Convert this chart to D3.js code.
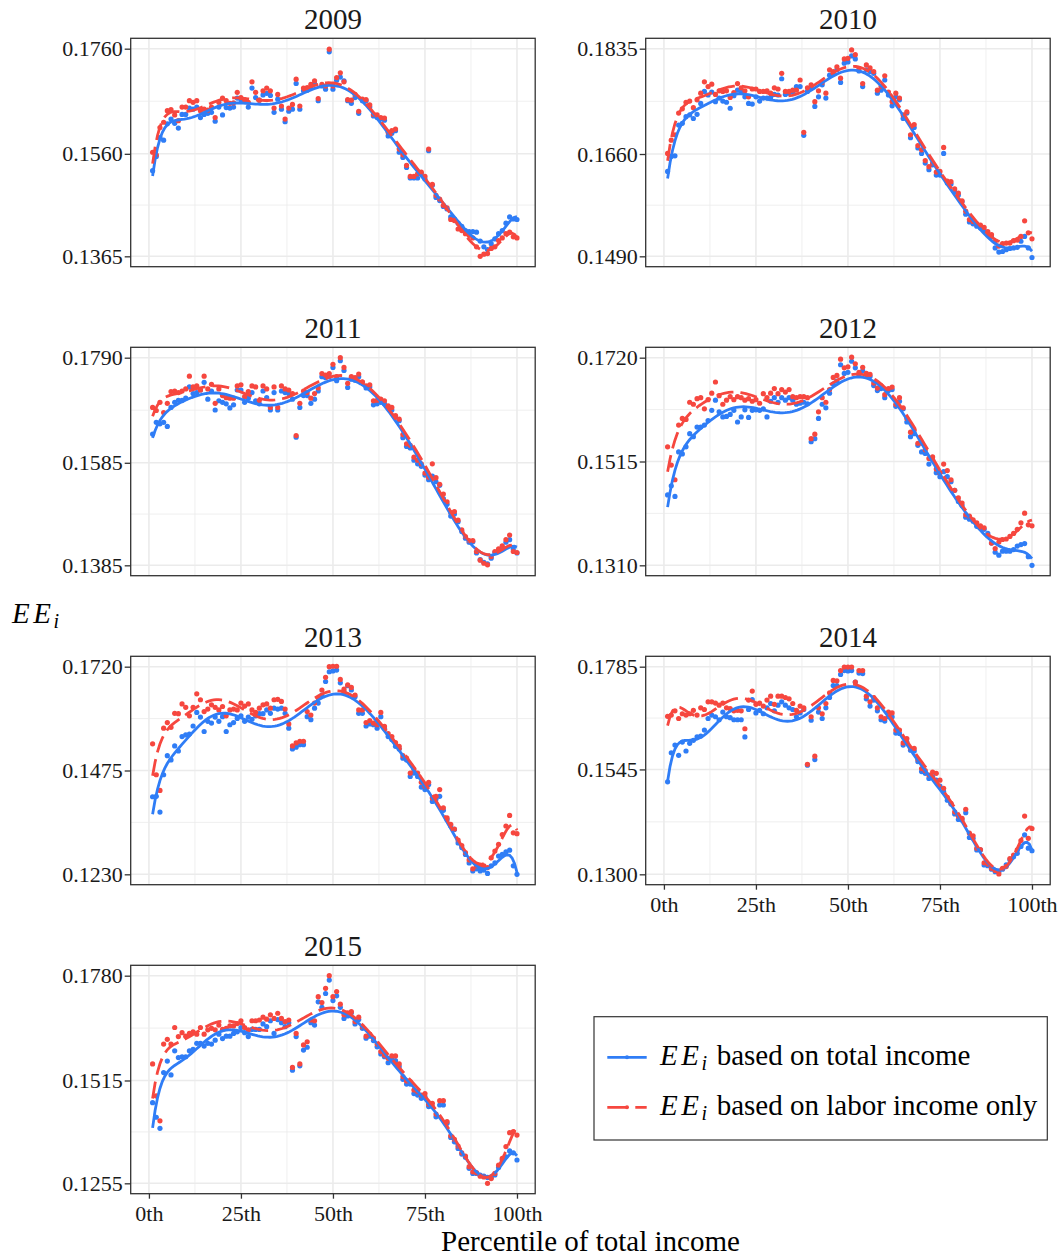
<!DOCTYPE html>
<html>
<head>
<meta charset="utf-8">
<script src="https://cdn.jsdelivr.net/npm/d3@7/dist/d3.min.js"></script>
<style>
  body { margin: 0; background: #fff; }
  text { font-family: "Liberation Serif", "Times New Roman", serif; }
</style>
</head>
<body>
<div id="chart"></div>
<script>
// ---------- data, percentiles 1..100
var years = ['2009', '2010', '2011', '2012', '2013', '2014', '2015'];
var percentiles = d3.range(1, 101);
var xTicks = [0, 25, 50, 75, 100];
var xTickLabels = ['0th', '25th', '50th', '75th', '100th'];

var yTicks2009 = [0.1365, 0.1560, 0.1760];
var yTicks2010 = [0.1490, 0.1660, 0.1835];
var yTicks2011 = [0.1385, 0.1585, 0.1790];
var yTicks2012 = [0.1310, 0.1515, 0.1720];
var yTicks2013 = [0.1230, 0.1475, 0.1720];
var yTicks2014 = [0.1300, 0.1545, 0.1785];
var yTicks2015 = [0.1255, 0.1515, 0.1780];

var total2009 = [0.1528,0.1555,0.1591,0.1586,0.1617,0.1626,0.1618,0.1609,0.1635,0.1635,
  0.1647,0.1645,0.1649,0.1629,0.1635,0.1637,0.1639,0.1622,0.1649,0.1634,
  0.1648,0.1647,0.1649,0.1666,0.1663,0.1661,0.1649,0.1685,0.1667,0.1662,
  0.1672,0.1675,0.1671,0.1639,0.1664,0.1645,0.1621,0.1641,0.1645,0.1694,
  0.1645,0.1680,0.1681,0.1687,0.1694,0.1661,0.1689,0.1683,0.1754,0.1683,
  0.1700,0.1706,0.1699,0.1661,0.1656,0.1667,0.1637,0.1661,0.1661,0.1649,
  0.1632,0.1629,0.1626,0.1624,0.1594,0.1599,0.1604,0.1563,0.1553,0.1534,
  0.1514,0.1514,0.1514,0.1522,0.1512,0.1566,0.1500,0.1477,0.1471,0.1460,
  0.1455,0.1440,0.1436,0.1428,0.1422,0.1414,0.1412,0.1412,0.1411,0.1394,
  0.1383,0.1378,0.1389,0.1398,0.1408,0.1414,0.1428,0.1440,0.1436,0.1435];
var labor2009 = [0.1563,0.1558,0.1610,0.1620,0.1642,0.1644,0.1634,0.1623,0.1649,0.1649,
  0.1661,0.1658,0.1661,0.1642,0.1645,0.1643,0.1649,0.1629,0.1658,0.1666,
  0.1661,0.1656,0.1657,0.1677,0.1667,0.1663,0.1658,0.1697,0.1677,0.1662,
  0.1680,0.1685,0.1680,0.1647,0.1673,0.1651,0.1626,0.1647,0.1654,0.1702,
  0.1651,0.1685,0.1686,0.1692,0.1699,0.1665,0.1692,0.1689,0.1759,0.1689,
  0.1705,0.1714,0.1697,0.1663,0.1662,0.1673,0.1641,0.1664,0.1663,0.1653,
  0.1635,0.1634,0.1629,0.1628,0.1601,0.1604,0.1607,0.1569,0.1558,0.1538,
  0.1517,0.1517,0.1522,0.1525,0.1517,0.1569,0.1502,0.1481,0.1474,0.1462,
  0.1457,0.1435,0.1433,0.1417,0.1414,0.1408,0.1405,0.1400,0.1383,0.1365,
  0.1369,0.1370,0.1380,0.1383,0.1395,0.1400,0.1408,0.1411,0.1402,0.1400];

var total2010 = [0.1631,0.1656,0.1657,0.1708,0.1711,0.1722,0.1725,0.1719,0.1726,0.1744,
  0.1764,0.1758,0.1763,0.1747,0.1753,0.1748,0.1746,0.1736,0.1757,0.1766,
  0.1764,0.1755,0.1744,0.1743,0.1755,0.1748,0.1753,0.1753,0.1754,0.1759,
  0.1758,0.1785,0.1759,0.1761,0.1763,0.1772,0.1772,0.1691,0.1764,0.1770,
  0.1739,0.1755,0.1775,0.1753,0.1791,0.1794,0.1800,0.1779,0.1811,0.1813,
  0.1823,0.1818,0.1798,0.1772,0.1800,0.1797,0.1794,0.1761,0.1766,0.1783,
  0.1758,0.1740,0.1755,0.1750,0.1719,0.1728,0.1687,0.1704,0.1670,0.1661,
  0.1645,0.1634,0.1642,0.1625,0.1625,0.1661,0.1612,0.1610,0.1597,0.1592,
  0.1581,0.1560,0.1547,0.1544,0.1540,0.1537,0.1533,0.1526,0.1522,0.1504,
  0.1497,0.1498,0.1501,0.1503,0.1504,0.1505,0.1515,0.1523,0.1504,0.1488];
var labor2010 = [0.1661,0.1683,0.1692,0.1728,0.1735,0.1746,0.1748,0.1737,0.1750,0.1761,
  0.1780,0.1772,0.1776,0.1759,0.1765,0.1764,0.1765,0.1754,0.1762,0.1777,
  0.1770,0.1765,0.1755,0.1768,0.1768,0.1764,0.1764,0.1765,0.1761,0.1770,
  0.1768,0.1794,0.1764,0.1764,0.1766,0.1766,0.1783,0.1696,0.1770,0.1775,
  0.1747,0.1765,0.1779,0.1761,0.1800,0.1797,0.1805,0.1786,0.1818,0.1819,
  0.1833,0.1825,0.1802,0.1777,0.1808,0.1803,0.1797,0.1766,0.1772,0.1790,
  0.1763,0.1747,0.1761,0.1753,0.1725,0.1730,0.1692,0.1709,0.1674,0.1667,
  0.1649,0.1639,0.1645,0.1630,0.1631,0.1671,0.1615,0.1614,0.1602,0.1595,
  0.1582,0.1565,0.1551,0.1548,0.1544,0.1542,0.1538,0.1531,0.1526,0.1514,
  0.1507,0.1511,0.1512,0.1512,0.1516,0.1517,0.1523,0.1549,0.1529,0.1519];

var total2011 = [0.1641,0.1664,0.1661,0.1664,0.1656,0.1693,0.1703,0.1707,0.1707,0.1711,
  0.1733,0.1720,0.1722,0.1727,0.1742,0.1709,0.1725,0.1688,0.1706,0.1703,
  0.1700,0.1692,0.1698,0.1727,0.1727,0.1703,0.1711,0.1722,0.1706,0.1700,
  0.1725,0.1712,0.1688,0.1722,0.1688,0.1725,0.1722,0.1720,0.1709,0.1635,
  0.1693,0.1716,0.1716,0.1701,0.1709,0.1725,0.1753,0.1751,0.1753,0.1771,
  0.1745,0.1784,0.1765,0.1732,0.1748,0.1746,0.1753,0.1742,0.1731,0.1733,
  0.1698,0.1700,0.1703,0.1700,0.1693,0.1688,0.1674,0.1667,0.1634,0.1617,
  0.1614,0.1590,0.1583,0.1578,0.1561,0.1552,0.1559,0.1548,0.1541,0.1515,
  0.1504,0.1481,0.1485,0.1470,0.1451,0.1438,0.1430,0.1431,0.1409,0.1396,
  0.1391,0.1388,0.1399,0.1410,0.1415,0.1420,0.1430,0.1435,0.1417,0.1409];
var labor2011 = [0.1693,0.1687,0.1703,0.1683,0.1701,0.1724,0.1725,0.1722,0.1725,0.1729,
  0.1754,0.1733,0.1735,0.1727,0.1754,0.1729,0.1738,0.1701,0.1729,0.1716,
  0.1712,0.1711,0.1711,0.1735,0.1737,0.1714,0.1724,0.1735,0.1733,0.1707,
  0.1735,0.1729,0.1693,0.1733,0.1693,0.1735,0.1729,0.1727,0.1720,0.1638,
  0.1701,0.1725,0.1722,0.1711,0.1720,0.1731,0.1759,0.1756,0.1759,0.1777,
  0.1753,0.1790,0.1771,0.1740,0.1753,0.1751,0.1758,0.1743,0.1735,0.1737,
  0.1706,0.1707,0.1709,0.1706,0.1696,0.1693,0.1677,0.1670,0.1640,0.1622,
  0.1619,0.1596,0.1590,0.1583,0.1565,0.1557,0.1583,0.1556,0.1543,0.1524,
  0.1509,0.1488,0.1490,0.1473,0.1454,0.1441,0.1433,0.1433,0.1412,0.1395,
  0.1389,0.1386,0.1402,0.1412,0.1417,0.1423,0.1435,0.1444,0.1412,0.1410];

var total2012 = [0.1449,0.1467,0.1446,0.1534,0.1530,0.1544,0.1570,0.1564,0.1583,0.1583,
  0.1587,0.1596,0.1616,0.1636,0.1613,0.1603,0.1604,0.1608,0.1616,0.1593,
  0.1603,0.1617,0.1602,0.1616,0.1617,0.1616,0.1619,0.1603,0.1634,0.1641,
  0.1632,0.1641,0.1636,0.1641,0.1636,0.1628,0.1630,0.1632,0.1629,0.1554,
  0.1560,0.1600,0.1628,0.1621,0.1650,0.1668,0.1674,0.1706,0.1689,0.1691,
  0.1713,0.1700,0.1685,0.1694,0.1687,0.1683,0.1665,0.1655,0.1659,0.1641,
  0.1655,0.1657,0.1624,0.1634,0.1619,0.1593,0.1564,0.1570,0.1547,0.1534,
  0.1531,0.1510,0.1518,0.1493,0.1485,0.1495,0.1485,0.1475,0.1458,0.1436,
  0.1428,0.1405,0.1401,0.1397,0.1387,0.1384,0.1381,0.1373,0.1354,0.1336,
  0.1330,0.1338,0.1338,0.1338,0.1341,0.1348,0.1351,0.1353,0.1327,0.1310];
var labor2012 = [0.1544,0.1508,0.1479,0.1587,0.1600,0.1598,0.1632,0.1628,0.1639,0.1641,
  0.1619,0.1637,0.1650,0.1672,0.1645,0.1628,0.1636,0.1643,0.1637,0.1643,
  0.1641,0.1636,0.1639,0.1634,0.1637,0.1630,0.1649,0.1641,0.1650,0.1659,
  0.1649,0.1657,0.1652,0.1657,0.1643,0.1641,0.1643,0.1643,0.1641,0.1560,
  0.1569,0.1613,0.1641,0.1632,0.1657,0.1681,0.1685,0.1717,0.1700,0.1702,
  0.1721,0.1708,0.1691,0.1701,0.1689,0.1687,0.1670,0.1660,0.1665,0.1647,
  0.1659,0.1662,0.1628,0.1641,0.1621,0.1600,0.1573,0.1577,0.1551,0.1551,
  0.1538,0.1521,0.1524,0.1500,0.1493,0.1510,0.1497,0.1479,0.1458,0.1443,
  0.1433,0.1410,0.1407,0.1400,0.1394,0.1388,0.1384,0.1369,0.1354,0.1343,
  0.1356,0.1361,0.1362,0.1367,0.1373,0.1381,0.1394,0.1413,0.1390,0.1388];

var total2013 = [0.1413,0.1414,0.1377,0.1465,0.1510,0.1500,0.1533,0.1521,0.1555,0.1559,
  0.1561,0.1580,0.1612,0.1601,0.1567,0.1591,0.1587,0.1601,0.1591,0.1602,
  0.1567,0.1583,0.1588,0.1598,0.1604,0.1591,0.1601,0.1596,0.1604,0.1609,
  0.1609,0.1618,0.1610,0.1622,0.1620,0.1622,0.1610,0.1575,0.1526,0.1530,
  0.1536,0.1536,0.1602,0.1595,0.1622,0.1634,0.1653,0.1685,0.1708,0.1710,
  0.1712,0.1682,0.1661,0.1675,0.1665,0.1649,0.1610,0.1610,0.1580,0.1585,
  0.1583,0.1575,0.1602,0.1575,0.1555,0.1548,0.1532,0.1526,0.1504,0.1500,
  0.1461,0.1469,0.1461,0.1436,0.1430,0.1442,0.1402,0.1408,0.1414,0.1381,
  0.1359,0.1344,0.1336,0.1304,0.1293,0.1277,0.1257,0.1238,0.1243,0.1238,
  0.1240,0.1232,0.1250,0.1257,0.1273,0.1277,0.1283,0.1287,0.1250,0.1230];
var labor2013 = [0.1538,0.1465,0.1428,0.1575,0.1588,0.1577,0.1610,0.1609,0.1632,0.1624,
  0.1604,0.1624,0.1656,0.1642,0.1614,0.1620,0.1630,0.1624,0.1618,0.1626,
  0.1604,0.1618,0.1620,0.1618,0.1634,0.1627,0.1632,0.1618,0.1612,0.1622,
  0.1630,0.1632,0.1622,0.1642,0.1643,0.1638,0.1620,0.1585,0.1533,0.1540,
  0.1544,0.1544,0.1614,0.1606,0.1634,0.1646,0.1665,0.1695,0.1720,0.1721,
  0.1721,0.1690,0.1667,0.1677,0.1671,0.1653,0.1618,0.1618,0.1588,0.1593,
  0.1587,0.1583,0.1612,0.1579,0.1562,0.1555,0.1541,0.1532,0.1510,0.1504,
  0.1469,0.1477,0.1469,0.1447,0.1438,0.1447,0.1410,0.1414,0.1430,0.1387,
  0.1363,0.1348,0.1337,0.1311,0.1298,0.1281,0.1264,0.1243,0.1250,0.1251,
  0.1250,0.1246,0.1269,0.1285,0.1301,0.1324,0.1344,0.1369,0.1328,0.1326];

var total2014 = [0.1516,0.1584,0.1602,0.1578,0.1609,0.1588,0.1606,0.1613,0.1621,0.1623,
  0.1637,0.1664,0.1672,0.1668,0.1661,0.1679,0.1668,0.1666,0.1661,0.1661,
  0.1661,0.1621,0.1685,0.1708,0.1677,0.1683,0.1675,0.1689,0.1699,0.1682,
  0.1695,0.1703,0.1695,0.1689,0.1685,0.1668,0.1677,0.1685,0.1555,0.1660,
  0.1568,0.1679,0.1664,0.1689,0.1713,0.1741,0.1741,0.1767,0.1776,0.1775,
  0.1776,0.1749,0.1770,0.1769,0.1710,0.1693,0.1707,0.1682,0.1661,0.1658,
  0.1668,0.1668,0.1630,0.1629,0.1602,0.1609,0.1590,0.1588,0.1563,0.1540,
  0.1536,0.1524,0.1528,0.1520,0.1506,0.1493,0.1473,0.1464,0.1441,0.1428,
  0.1427,0.1444,0.1386,0.1384,0.1357,0.1357,0.1322,0.1320,0.1312,0.1306,
  0.1306,0.1312,0.1322,0.1334,0.1341,0.1349,0.1365,0.1392,0.1361,0.1355];
var labor2014 = [0.1669,0.1672,0.1682,0.1664,0.1675,0.1672,0.1675,0.1683,0.1672,0.1689,
  0.1685,0.1703,0.1703,0.1700,0.1695,0.1700,0.1689,0.1687,0.1682,0.1683,
  0.1682,0.1640,0.1707,0.1728,0.1697,0.1700,0.1693,0.1707,0.1716,0.1697,
  0.1716,0.1716,0.1713,0.1710,0.1699,0.1683,0.1693,0.1689,0.1557,0.1668,
  0.1576,0.1689,0.1675,0.1699,0.1724,0.1753,0.1752,0.1776,0.1784,0.1784,
  0.1784,0.1749,0.1776,0.1776,0.1716,0.1703,0.1713,0.1689,0.1668,0.1664,
  0.1679,0.1677,0.1637,0.1637,0.1607,0.1617,0.1594,0.1594,0.1568,0.1547,
  0.1542,0.1532,0.1539,0.1536,0.1520,0.1501,0.1480,0.1466,0.1446,0.1436,
  0.1431,0.1452,0.1396,0.1390,0.1361,0.1358,0.1327,0.1324,0.1314,0.1309,
  0.1301,0.1314,0.1318,0.1337,0.1345,0.1357,0.1379,0.1436,0.1384,0.1407];

var total2015 = [0.1459,0.1422,0.1394,0.1535,0.1564,0.1529,0.1590,0.1573,0.1575,0.1575,
  0.1590,0.1594,0.1609,0.1609,0.1602,0.1609,0.1607,0.1617,0.1632,0.1621,
  0.1627,0.1627,0.1634,0.1638,0.1649,0.1636,0.1626,0.1644,0.1644,0.1644,
  0.1658,0.1651,0.1666,0.1634,0.1669,0.1661,0.1651,0.1661,0.1541,0.1626,
  0.1552,0.1592,0.1599,0.1661,0.1655,0.1714,0.1700,0.1735,0.1769,0.1717,
  0.1729,0.1700,0.1672,0.1678,0.1686,0.1658,0.1669,0.1647,0.1622,0.1627,
  0.1616,0.1600,0.1582,0.1575,0.1560,0.1568,0.1565,0.1550,0.1518,0.1506,
  0.1506,0.1482,0.1478,0.1470,0.1474,0.1449,0.1449,0.1423,0.1453,0.1453,
  0.1407,0.1371,0.1360,0.1343,0.1329,0.1321,0.1293,0.1280,0.1280,0.1276,
  0.1273,0.1270,0.1270,0.1276,0.1295,0.1314,0.1322,0.1337,0.1332,0.1314];
var labor2015 = [0.1557,0.1476,0.1413,0.1607,0.1619,0.1607,0.1649,0.1626,0.1636,0.1627,
  0.1634,0.1638,0.1632,0.1649,0.1632,0.1643,0.1647,0.1643,0.1655,0.1644,
  0.1647,0.1653,0.1653,0.1659,0.1666,0.1649,0.1643,0.1666,0.1666,0.1668,
  0.1675,0.1670,0.1681,0.1672,0.1685,0.1672,0.1664,0.1668,0.1548,0.1634,
  0.1557,0.1605,0.1613,0.1668,0.1666,0.1727,0.1712,0.1748,0.1780,0.1727,
  0.1740,0.1708,0.1681,0.1686,0.1689,0.1664,0.1675,0.1651,0.1627,0.1632,
  0.1622,0.1607,0.1588,0.1579,0.1571,0.1577,0.1577,0.1557,0.1525,0.1514,
  0.1512,0.1491,0.1487,0.1478,0.1482,0.1455,0.1457,0.1430,0.1464,0.1464,
  0.1411,0.1375,0.1366,0.1349,0.1332,0.1324,0.1297,0.1284,0.1282,0.1273,
  0.1271,0.1255,0.1267,0.1280,0.1301,0.1318,0.1348,0.1383,0.1386,0.1377];

var seriesNames = ['based on total income', 'based on labor income only'];

// panel table built from the arrays above
var panels = [
  {year: years[0], ticks: yTicks2009, total: total2009, labor: labor2009},
  {year: years[1], ticks: yTicks2010, total: total2010, labor: labor2010},
  {year: years[2], ticks: yTicks2011, total: total2011, labor: labor2011},
  {year: years[3], ticks: yTicks2012, total: total2012, labor: labor2012},
  {year: years[4], ticks: yTicks2013, total: total2013, labor: labor2013},
  {year: years[5], ticks: yTicks2014, total: total2014, labor: labor2014},
  {year: years[6], ticks: yTicks2015, total: total2015, labor: labor2015}
];

// ---------- layout
var chart_width  = 1061;
var chart_height = 1258;
var col_x     = [130.7, 645.7];
var panel_w   = 404.5;
var panel_h   = 228.4;
var row_top   = 38.3;
var row_step  = 309;

var blue = '#2f7df6';
var red  = '#f6473f';
var grid_color = '#ebebeb';
var dark = '#333333';
var dash = '17,7';

// least-squares polynomial fit (Legendre basis on [-1, 1])
function polyfit(xs, ys, degree, n_out) {
    var x_min = d3.min(xs), x_max = d3.max(xs);
    var mid = (x_min + x_max) / 2, half = (x_max - x_min) / 2;
    function basis(x) {
        var t = (x - mid) / half, P = [1, t];
        for (var k = 1; k < degree; k++) {
            P.push(((2 * k + 1) * t * P[k] - k * P[k - 1]) / (k + 1));
        }
        return P.slice(0, degree + 1);
    }
    var m = degree + 1;
    var A = d3.range(m).map(function() { return d3.range(m + 1).map(function() { return 0; }); });
    xs.forEach(function(x, i) {
        var v = basis(x);
        for (var a = 0; a < m; a++) {
            A[a][m] += v[a] * ys[i];
            for (var b = 0; b < m; b++) A[a][b] += v[a] * v[b];
        }
    });
    var coef = solve(A, m);
    return d3.range(n_out).map(function(k) {
        var x = x_min + k * (x_max - x_min) / (n_out - 1);
        var v = basis(x);
        return [x, d3.sum(v, function(b, j) { return b * coef[j]; })];
    });
}

function solve(M, m) {
    for (var c = 0; c < m; c++) {
        var p = c;
        for (var r = c + 1; r < m; r++) if (Math.abs(M[r][c]) > Math.abs(M[p][c])) p = r;
        var tmp = M[c]; M[c] = M[p]; M[p] = tmp;
        for (var r2 = c + 1; r2 < m; r2++) {
            var f = M[r2][c] / M[c][c];
            for (var k = c; k <= m; k++) M[r2][k] -= f * M[c][k];
        }
    }
    var x = [];
    for (var i = m - 1; i >= 0; i--) {
        var s = M[i][m];
        for (var j = i + 1; j < m; j++) s -= M[i][j] * x[j];
        x[i] = s / M[i][i];
    }
    return x;
}

var svg = d3.select('#chart')
    .append('svg')
    .attr('width', chart_width)
    .attr('height', chart_height)
    .style('display', 'block');

svg.append('rect').attr('width', chart_width).attr('height', chart_height).attr('fill', '#fff');

var degree = 10;

panels.forEach(function(p, idx) {
    var col = idx % 2, row = Math.floor(idx / 2);
    var x0 = col_x[col], y0 = row_top + row * row_step;
    var show_x = (idx === 5 || idx === 6);

    var x_scale = d3.scaleLinear().domain([-4.95, 104.95]).range([x0, x0 + panel_w]);
    var lo = p.ticks[0], hi = p.ticks[2], pad = (hi - lo) * 0.05;
    var y_scale = d3.scaleLinear().domain([lo - pad, hi + pad]).range([y0 + panel_h, y0]);

    var g = svg.append('g').attr('class', 'panel');

    g.append('clipPath').attr('id', 'clip' + idx)
      .append('rect').attr('x', x0).attr('y', y0).attr('width', panel_w).attr('height', panel_h);

    // grid: minor then major
    var y_minor = [(p.ticks[0] + p.ticks[1]) / 2, (p.ticks[1] + p.ticks[2]) / 2];
    var x_minor = [12.5, 37.5, 62.5, 87.5];
    g.selectAll('.ymin').data(y_minor).enter().append('line')
      .attr('x1', x0).attr('x2', x0 + panel_w)
      .attr('y1', function(d) { return y_scale(d); }).attr('y2', function(d) { return y_scale(d); })
      .attr('stroke', grid_color).attr('stroke-width', 0.8);
    g.selectAll('.xmin').data(x_minor).enter().append('line')
      .attr('y1', y0).attr('y2', y0 + panel_h)
      .attr('x1', function(d) { return x_scale(d); }).attr('x2', function(d) { return x_scale(d); })
      .attr('stroke', grid_color).attr('stroke-width', 0.8);
    g.selectAll('.ymaj').data(p.ticks).enter().append('line')
      .attr('x1', x0).attr('x2', x0 + panel_w)
      .attr('y1', function(d) { return y_scale(d); }).attr('y2', function(d) { return y_scale(d); })
      .attr('stroke', grid_color).attr('stroke-width', 1.6);
    g.selectAll('.xmaj').data(xTicks).enter().append('line')
      .attr('y1', y0).attr('y2', y0 + panel_h)
      .attr('x1', function(d) { return x_scale(d); }).attr('x2', function(d) { return x_scale(d); })
      .attr('stroke', grid_color).attr('stroke-width', 1.6);

    var plot = g.append('g').attr('clip-path', 'url(#clip' + idx + ')');

    // points
    [[p.total, blue], [p.labor, red]].forEach(function(s) {
        plot.append('g').selectAll('circle')
          .data(s[0])
          .enter()
          .append('circle')
          .attr('cx', function(d, i) { return x_scale(percentiles[i]); })
          .attr('cy', function(d) { return y_scale(d); })
          .attr('r', 2.6)
          .attr('fill', s[1]);
    });

    // fitted lines
    var line = d3.line()
        .x(function(d) { return x_scale(d[0]); })
        .y(function(d) { return y_scale(d[1]); });

    plot.append('path')
      .attr('d', line(polyfit(percentiles, p.total, degree, 150)))
      .attr('fill', 'none').attr('stroke', blue).attr('stroke-width', 2.8);
    plot.append('path')
      .attr('d', line(polyfit(percentiles, p.labor, degree, 150)))
      .attr('fill', 'none').attr('stroke', red).attr('stroke-width', 2.8)
      .attr('stroke-dasharray', dash);

    // border
    g.append('rect').attr('x', x0).attr('y', y0).attr('width', panel_w).attr('height', panel_h)
      .attr('fill', 'none').attr('stroke', dark).attr('stroke-width', 1.3);

    // y axis
    var y_axis = d3.axisLeft(y_scale)
        .tickValues(p.ticks)
        .tickFormat(d3.format('.4f'))
        .tickSize(6)
        .tickPadding(2);
    var ya = g.append('g').attr('transform', 'translate(' + x0 + ',0)').call(y_axis);
    ya.select('.domain').remove();
    ya.selectAll('line').attr('stroke', dark).attr('stroke-width', 1.3);
    ya.selectAll('text').attr('font-size', '22px').attr('fill', '#1a1a1a');

    // x axis only on the bottom panels
    if (show_x) {
        var x_axis = d3.axisBottom(x_scale)
            .tickValues(xTicks)
            .tickFormat(function(d, i) { return xTickLabels[i]; })
            .tickSize(5)
            .tickPadding(7);
        var xa = g.append('g').attr('transform', 'translate(0,' + (y0 + panel_h) + ')').call(x_axis);
        xa.select('.domain').remove();
        xa.selectAll('line').attr('stroke', dark).attr('stroke-width', 1.3);
        xa.selectAll('text').attr('font-size', '22px').attr('fill', '#1a1a1a');
    }

    // panel title
    g.append('text')
      .attr('x', x0 + panel_w / 2)
      .attr('y', y0 - 9)
      .attr('text-anchor', 'middle')
      .attr('font-size', '29px')
      .attr('fill', '#1a1a1a')
      .text(p.year);
});

// ---------- axis titles
svg.append('text')
    .attr('x', 590.5)
    .attr('y', 1251)
    .attr('text-anchor', 'middle')
    .attr('font-size', '29px')
    .attr('fill', '#000')
    .text('Percentile of total income');

function eeLabel(x, y) {
    svg.append('text').attr('x', x).attr('y', y)
      .attr('font-size', '29px').attr('font-style', 'italic').attr('letter-spacing', '3.5px')
      .attr('fill', '#000').text('EE');
    svg.append('text').attr('x', x + 41.5).attr('y', y + 5)
      .attr('font-size', '20px').attr('font-style', 'italic')
      .attr('fill', '#000').text('i');
}
eeLabel(12, 623);

// ---------- legend
var legend = svg.append('g');
legend.append('rect')
    .attr('x', 594).attr('y', 1016.7).attr('width', 453.3).attr('height', 123.3)
    .attr('fill', '#fff').attr('stroke', dark).attr('stroke-width', 1.2);

[[blue, null], [red, '19,9']].forEach(function(k, i) {
    var ky = 1057.3 + i * 50;
    legend.append('line')
      .attr('x1', 607.3).attr('x2', 646.7).attr('y1', ky).attr('y2', ky)
      .attr('stroke', k[0]).attr('stroke-width', 2.8)
      .attr('stroke-dasharray', k[1]);
    legend.append('circle').attr('cx', 627).attr('cy', ky).attr('r', 2).attr('fill', k[0]);
    eeLabel(660, ky + 8);
    legend.append('text')
      .attr('x', 716.7).attr('y', ky + 8)
      .attr('font-size', '29px').attr('fill', '#000')
      .text(seriesNames[i]);
});
</script>
</body>
</html>
